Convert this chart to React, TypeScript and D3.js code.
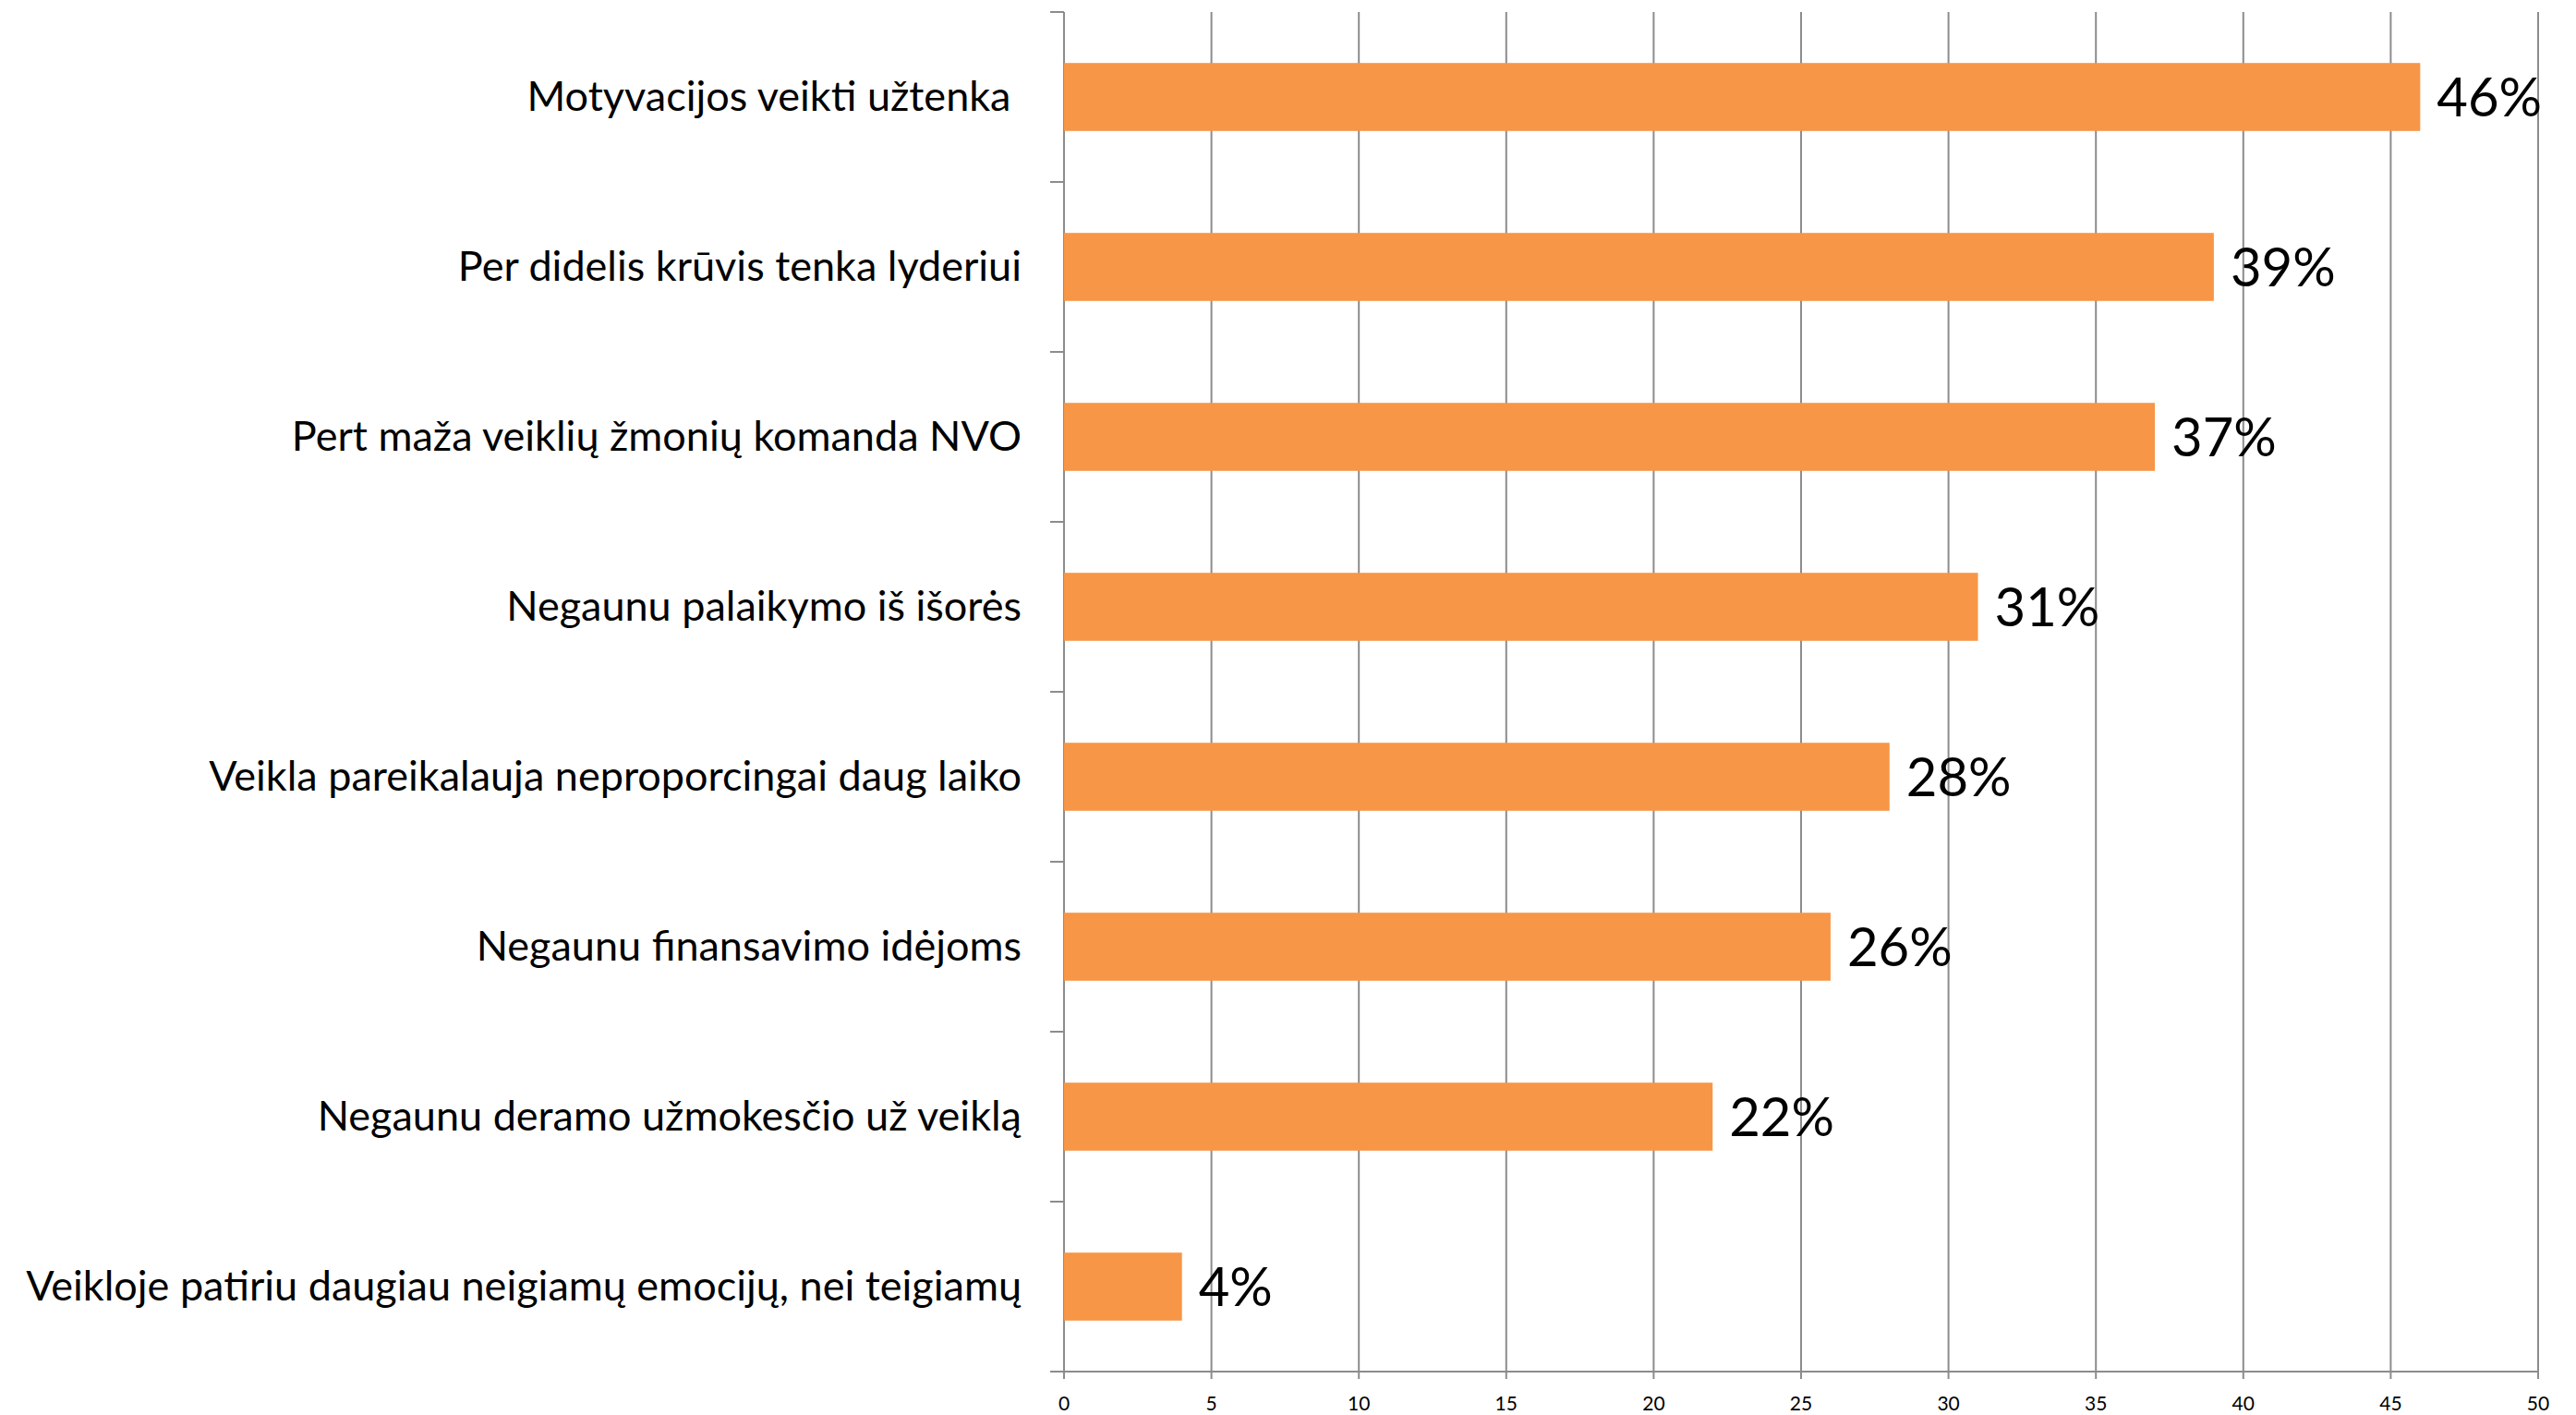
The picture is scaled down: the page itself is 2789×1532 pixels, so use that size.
import React from "react";
import * as d3 from "d3";

const categories = [
  "Motyvacijos veikti užtenka ",
  "Per didelis krūvis tenka lyderiui",
  "Pert maža veiklių žmonių komanda NVO",
  "Negaunu palaikymo iš išorės",
  "Veikla pareikalauja neproporcingai daug laiko",
  "Negaunu finansavimo idėjoms",
  "Negaunu deramo užmokesčio už veiklą",
  "Veikloje patiriu daugiau neigiamų emocijų, nei teigiamų",
];
const values = [46, 39, 37, 31, 28, 26, 22, 4];
const valueLabels = ["46%", "39%", "37%", "31%", "28%", "26%", "22%", "4%"];
const xTicks = [0, 5, 10, 15, 20, 25, 30, 35, 40, 45, 50];

const W = 2789;
const H = 1532;
const left = 1152;
const right = 2748;
const top = 13;
const bottom = 1485;
const gridColor = "#8c8c8c";
const barColor = "#F79646";
const font = "Lato, 'Open Sans', sans-serif";

export default function App() {
  const x = d3.scaleLinear().domain([0, 50]).range([left, right]);
  const y = d3
    .scaleBand<string>()
    .domain(categories)
    .range([top, bottom])
    .paddingInner(0.6)
    .paddingOuter(0.3);
  const step = y.step();
  const boundaries = d3.range(categories.length + 1).map((i) => top + i * step);

  return (
    <svg
      width={W}
      height={H}
      style={{ position: "absolute", left: 0, top: 0, background: "#fff" }}
    >
      <rect x={0} y={0} width={W} height={H} fill="#fff" />
      {xTicks.map((t) => (
        <line
          key={"g" + t}
          x1={x(t)}
          x2={x(t)}
          y1={top}
          y2={bottom + 8}
          stroke={gridColor}
          strokeWidth={2}
        />
      ))}
      {boundaries.map((b, i) => (
        <line
          key={"lt" + i}
          x1={left - 15}
          x2={left}
          y1={b}
          y2={b}
          stroke={gridColor}
          strokeWidth={2}
        />
      ))}
      <line x1={left - 15} x2={right} y1={bottom} y2={bottom} stroke={gridColor} strokeWidth={2} />
      {categories.map((c, i) => (
        <rect
          key={"b" + i}
          x={x(0)}
          y={y(c)!}
          width={x(values[i]) - x(0)}
          height={y.bandwidth()}
          fill={barColor}
        />
      ))}
      {categories.map((c, i) => (
        <text
          key={"v" + i}
          x={x(values[i]) + 18}
          y={y(c)! + y.bandwidth() / 2 + 21}
          fontFamily={font}
          fontSize={58}
          fill="#000"
        >
          {valueLabels[i]}
        </text>
      ))}
      {categories.map((c, i) => (
        <text
          key={"c" + i}
          x={1106}
          y={y(c)! + y.bandwidth() / 2 + 15}
          textAnchor="end"
          fontFamily={font}
          fontSize={45}
          fill="#000"
          style={{ whiteSpace: "pre" }}
        >
          {c}
        </text>
      ))}
      {xTicks.map((t) => (
        <text
          key={"xt" + t}
          x={x(t)}
          y={1527}
          textAnchor="middle"
          fontFamily={font}
          fontSize={21}
          fill="#000"
        >
          {t}
        </text>
      ))}
    </svg>
  );
}
